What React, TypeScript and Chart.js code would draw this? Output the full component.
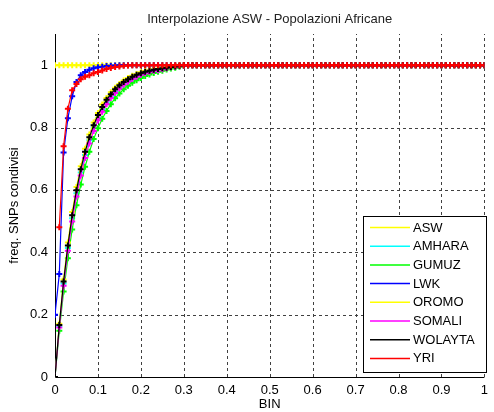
import React, { useEffect, useRef } from "react";
import { Chart, registerables } from "chart.js";

Chart.register(...registerables);

const BIN = [
  0, 0.01, 0.02, 0.03, 0.04, 0.05, 0.06, 0.07, 0.08, 0.09,
  0.1, 0.11, 0.12, 0.13, 0.14, 0.15, 0.16, 0.17, 0.18, 0.19,
  0.2, 0.21, 0.22, 0.23, 0.24, 0.25, 0.26, 0.27, 0.28, 0.29,
  0.3, 0.31, 0.32, 0.33, 0.34, 0.35, 0.36, 0.37, 0.38, 0.39,
  0.4, 0.41, 0.42, 0.43, 0.44, 0.45, 0.46, 0.47, 0.48, 0.49,
  0.5, 0.51, 0.52, 0.53, 0.54, 0.55, 0.56, 0.57, 0.58, 0.59,
  0.6, 0.61, 0.62, 0.63, 0.64, 0.65, 0.66, 0.67, 0.68, 0.69,
  0.7, 0.71, 0.72, 0.73, 0.74, 0.75, 0.76, 0.77, 0.78, 0.79,
  0.8, 0.81, 0.82, 0.83, 0.84, 0.85, 0.86, 0.87, 0.88, 0.89,
  0.9, 0.91, 0.92, 0.93, 0.94, 0.95, 0.96, 0.97, 0.98, 0.99,
  1,
];

const X_TICKS = [0, 0.1, 0.2, 0.3, 0.4, 0.5, 0.6, 0.7, 0.8, 0.9, 1];
const Y_TICKS = [0, 0.2, 0.4, 0.6, 0.8, 1];

const ASW = [
  1, 1, 1, 1, 1, 1, 1, 1, 1, 1,
  1, 1, 1, 1, 1, 1, 1, 1, 1, 1,
  1, 1, 1, 1, 1, 1, 1, 1, 1, 1,
  1, 1, 1, 1, 1, 1, 1, 1, 1, 1,
  1, 1, 1, 1, 1, 1, 1, 1, 1, 1,
  1, 1, 1, 1, 1, 1, 1, 1, 1, 1,
  1, 1, 1, 1, 1, 1, 1, 1, 1, 1,
  1, 1, 1, 1, 1, 1, 1, 1, 1, 1,
  1, 1, 1, 1, 1, 1, 1, 1, 1, 1,
  1, 1, 1, 1, 1, 1, 1, 1, 1, 1,
  1,
];

const AMHARA = [
  0, 0.163, 0.3, 0.414, 0.509, 0.589, 0.656, 0.712, 0.759, 0.799,
  0.831, 0.859, 0.882, 0.901, 0.917, 0.931, 0.942, 0.952, 0.959, 0.966,
  0.972, 0.976, 0.98, 0.983, 0.986, 0.988, 0.991, 0.993, 0.995, 0.997,
  0.999, 1, 1, 1, 1, 1, 1, 1, 1, 1,
  1, 1, 1, 1, 1, 1, 1, 1, 1, 1,
  1, 1, 1, 1, 1, 1, 1, 1, 1, 1,
  1, 1, 1, 1, 1, 1, 1, 1, 1, 1,
  1, 1, 1, 1, 1, 1, 1, 1, 1, 1,
  1, 1, 1, 1, 1, 1, 1, 1, 1, 1,
  1, 1, 1, 1, 1, 1, 1, 1, 1, 1,
  1,
];

const GUMUZ = [
  0, 0.148, 0.274, 0.381, 0.473, 0.551, 0.617, 0.674, 0.722, 0.763,
  0.798, 0.828, 0.853, 0.875, 0.894, 0.909, 0.923, 0.934, 0.944, 0.952,
  0.959, 0.965, 0.97, 0.975, 0.979, 0.982, 0.986, 0.989, 0.992, 0.995,
  0.997, 0.999, 1, 1, 1, 1, 1, 1, 1, 1,
  1, 1, 1, 1, 1, 1, 1, 1, 1, 1,
  1, 1, 1, 1, 1, 1, 1, 1, 1, 1,
  1, 1, 1, 1, 1, 1, 1, 1, 1, 1,
  1, 1, 1, 1, 1, 1, 1, 1, 1, 1,
  1, 1, 1, 1, 1, 1, 1, 1, 1, 1,
  1, 1, 1, 1, 1, 1, 1, 1, 1, 1,
  1,
];

const LWK = [
  0.2, 0.33, 0.72, 0.83, 0.9, 0.946, 0.968, 0.978, 0.985, 0.99,
  0.993, 0.995, 0.997, 0.998, 0.999, 1, 1, 1, 1, 1,
  1, 1, 1, 1, 1, 1, 1, 1, 1, 1,
  1, 1, 1, 1, 1, 1, 1, 1, 1, 1,
  1, 1, 1, 1, 1, 1, 1, 1, 1, 1,
  1, 1, 1, 1, 1, 1, 1, 1, 1, 1,
  1, 1, 1, 1, 1, 1, 1, 1, 1, 1,
  1, 1, 1, 1, 1, 1, 1, 1, 1, 1,
  1, 1, 1, 1, 1, 1, 1, 1, 1, 1,
  1, 1, 1, 1, 1, 1, 1, 1, 1, 1,
  1,
];

const OROMO = [
  0, 0.171, 0.313, 0.431, 0.529, 0.609, 0.676, 0.732, 0.778, 0.816,
  0.847, 0.874, 0.895, 0.913, 0.928, 0.94, 0.951, 0.959, 0.966, 0.972,
  0.977, 0.981, 0.984, 0.987, 0.989, 0.991, 0.993, 0.995, 0.997, 0.999,
  1, 1, 1, 1, 1, 1, 1, 1, 1, 1,
  1, 1, 1, 1, 1, 1, 1, 1, 1, 1,
  1, 1, 1, 1, 1, 1, 1, 1, 1, 1,
  1, 1, 1, 1, 1, 1, 1, 1, 1, 1,
  1, 1, 1, 1, 1, 1, 1, 1, 1, 1,
  1, 1, 1, 1, 1, 1, 1, 1, 1, 1,
  1, 1, 1, 1, 1, 1, 1, 1, 1, 1,
  1,
];

const SOMALI = [
  0, 0.159, 0.293, 0.405, 0.499, 0.579, 0.646, 0.702, 0.749, 0.789,
  0.823, 0.851, 0.875, 0.895, 0.911, 0.925, 0.937, 0.947, 0.956, 0.963,
  0.969, 0.974, 0.978, 0.981, 0.984, 0.987, 0.99, 0.993, 0.995, 0.997,
  0.999, 1, 1, 1, 1, 1, 1, 1, 1, 1,
  1, 1, 1, 1, 1, 1, 1, 1, 1, 1,
  1, 1, 1, 1, 1, 1, 1, 1, 1, 1,
  1, 1, 1, 1, 1, 1, 1, 1, 1, 1,
  1, 1, 1, 1, 1, 1, 1, 1, 1, 1,
  1, 1, 1, 1, 1, 1, 1, 1, 1, 1,
  1, 1, 1, 1, 1, 1, 1, 1, 1, 1,
  1,
];

const WOLAYTA = [
  0, 0.167, 0.306, 0.422, 0.519, 0.599, 0.666, 0.722, 0.769, 0.807,
  0.84, 0.866, 0.889, 0.907, 0.923, 0.936, 0.946, 0.955, 0.963, 0.969,
  0.974, 0.979, 0.982, 0.985, 0.988, 0.99, 0.992, 0.994, 0.996, 0.998,
  1, 1, 1, 1, 1, 1, 1, 1, 1, 1,
  1, 1, 1, 1, 1, 1, 1, 1, 1, 1,
  1, 1, 1, 1, 1, 1, 1, 1, 1, 1,
  1, 1, 1, 1, 1, 1, 1, 1, 1, 1,
  1, 1, 1, 1, 1, 1, 1, 1, 1, 1,
  1, 1, 1, 1, 1, 1, 1, 1, 1, 1,
  1, 1, 1, 1, 1, 1, 1, 1, 1, 1,
  1,
];

const YRI = [
  null, 0.48, 0.74, 0.86, 0.92, 0.94, 0.955, 0.963, 0.968, 0.974,
  0.978, 0.983, 0.988, 0.991, 0.994, 0.996, 0.998, 0.999, 1, 1,
  1, 1, 1, 1, 1, 1, 1, 1, 1, 1,
  1, 1, 1, 1, 1, 1, 1, 1, 1, 1,
  1, 1, 1, 1, 1, 1, 1, 1, 1, 1,
  1, 1, 1, 1, 1, 1, 1, 1, 1, 1,
  1, 1, 1, 1, 1, 1, 1, 1, 1, 1,
  1, 1, 1, 1, 1, 1, 1, 1, 1, 1,
  1, 1, 1, 1, 1, 1, 1, 1, 1, 1,
  1, 1, 1, 1, 1, 1, 1, 1, 1, 1,
  1,
];

const SERIES_NAMES = ["ASW", "AMHARA", "GUMUZ", "LWK", "OROMO", "SOMALI", "WOLAYTA", "YRI"];
const SERIES_VALUES = [ASW, AMHARA, GUMUZ, LWK, OROMO, SOMALI, WOLAYTA, YRI];
const SERIES_COLORS = ["#ffff00", "#00ffff", "#00ff00", "#0000ff", "#ffff00", "#ff00ff", "#000000", "#ff0000"];

const TITLE = "Interpolazione ASW - Popolazioni Africane";
const X_TITLE = "BIN";
const Y_TITLE = "freq. SNPs condivisi";

const FONT = "'Liberation Sans', Arial, sans-serif";

const gridPlugin = {
  id: "matlabGrid",
  beforeDatasetsDraw(chart: any) {
    const { ctx, chartArea } = chart;
    const xs = chart.scales.x;
    const ys = chart.scales.y;
    ctx.save();
    ctx.strokeStyle = "#404040";
    ctx.lineWidth = 1;
    ctx.setLineDash([3, 3]);
    X_TICKS.forEach((v) => {
      if (v === 0) return;
      const px = Math.round(xs.getPixelForValue(v)) + 0.5;
      ctx.beginPath();
      ctx.moveTo(px, chartArea.bottom);
      ctx.lineTo(px, chartArea.top);
      ctx.stroke();
    });
    Y_TICKS.forEach((v) => {
      if (v === 0) return;
      const py = Math.round(ys.getPixelForValue(v)) + 0.5;
      ctx.beginPath();
      ctx.moveTo(chartArea.left, py);
      ctx.lineTo(chartArea.right, py);
      ctx.stroke();
    });
    ctx.setLineDash([]);
    ctx.strokeStyle = "#000000";
    const lx = Math.round(chartArea.left) + 0.5;
    const by = Math.round(chartArea.bottom) + 0.5;
    ctx.beginPath();
    ctx.moveTo(lx, chartArea.top);
    ctx.lineTo(lx, by);
    ctx.lineTo(chartArea.right, by);
    ctx.stroke();
    ctx.restore();
  },
};

const decorPlugin = {
  id: "matlabDecor",
  afterDraw(chart: any) {
    const { ctx, chartArea } = chart;
    ctx.save();
    // title
    ctx.fillStyle = "#222222";
    ctx.font = `13px ${FONT}`;
    ctx.textAlign = "center";
    ctx.textBaseline = "middle";
    ctx.fillText(TITLE, (chartArea.left + chartArea.right) / 2, 19);

    // legend
    const bx = 363.5, byTop = 216.5, bw = 123, bh = 156;
    ctx.fillStyle = "#ffffff";
    ctx.fillRect(bx, byTop, bw, bh);
    ctx.strokeStyle = "#000000";
    ctx.lineWidth = 1;
    ctx.strokeRect(bx, byTop, bw, bh);
    ctx.font = `13px ${FONT}`;
    ctx.textAlign = "left";
    ctx.textBaseline = "middle";
    SERIES_NAMES.forEach((name, i) => {
      const y = 227.5 + i * 18.7;
      ctx.strokeStyle = SERIES_COLORS[i];
      ctx.lineWidth = 1.5;
      ctx.beginPath();
      ctx.moveTo(370, y);
      ctx.lineTo(410, y);
      ctx.stroke();
      ctx.fillStyle = "#000000";
      ctx.fillText(name, 413, y + 0.5);
    });
    ctx.restore();
  },
};

export default function App() {
  const canvasRef = useRef<HTMLCanvasElement | null>(null);

  useEffect(() => {
    document.body.style.margin = "0";
    const canvas = canvasRef.current;
    if (!canvas) return;

    const datasets = SERIES_NAMES.map((name, i) => ({
      label: name,
      data: BIN.map((x, j) => ({ x, y: SERIES_VALUES[i][j] })),
      borderColor: SERIES_COLORS[i],
      backgroundColor: SERIES_COLORS[i],
      borderWidth: 1.2,
      pointStyle: "cross" as const,
      pointRadius: 3,
      pointBorderWidth: 2,
      pointBorderColor: SERIES_COLORS[i],
      tension: 0,
      fill: false,
      order: SERIES_NAMES.length - 1 - i,
    }));

    const chart = new Chart(canvas, {
      type: "line",
      data: { datasets },
      plugins: [gridPlugin, decorPlugin],
      options: {
        responsive: false,
        animation: false,
        devicePixelRatio: 1,
        layout: { padding: { top: 34, right: 5, left: 0, bottom: 0 } },
        plugins: {
          legend: { display: false },
          title: { display: false },
          tooltip: { enabled: false },
        },
        scales: {
          x: {
            type: "linear",
            min: 0,
            max: 1,
            afterBuildTicks: (scale: any) => {
              scale.ticks = X_TICKS.map((v) => ({ value: v }));
            },
            afterFit: (scale: any) => {
              scale.height = 35;
            },
            grid: { display: false, drawTicks: false },
            border: { display: false },
            ticks: {
              color: "#000000",
              font: { family: FONT, size: 13 },
              padding: 6,
              maxRotation: 0,
              autoSkip: false,
              callback: (v: any) => String(v),
            },
            title: {
              display: true,
              text: X_TITLE,
              color: "#000000",
              font: { family: FONT, size: 13 },
              padding: { top: 0, bottom: 0 },
            },
          },
          y: {
            type: "linear",
            min: 0,
            max: 1.1,
            afterBuildTicks: (scale: any) => {
              scale.ticks = Y_TICKS.map((v) => ({ value: v }));
            },
            afterFit: (scale: any) => {
              scale.width = 55;
            },
            grid: { display: false, drawTicks: false },
            border: { display: false },
            ticks: {
              color: "#000000",
              font: { family: FONT, size: 13 },
              padding: 7,
              autoSkip: false,
              callback: (v: any) => String(v),
            },
            title: {
              display: true,
              text: Y_TITLE,
              color: "#000000",
              font: { family: FONT, size: 13 },
              padding: { top: 7, bottom: 0 },
            },
          },
        },
      },
    } as any);

    return () => chart.destroy();
  }, []);

  return (
    <div style={{ width: 494, height: 412, background: "#ffffff" }}>
      <canvas ref={canvasRef} width={494} height={412} style={{ display: "block" }} />
    </div>
  );
}
